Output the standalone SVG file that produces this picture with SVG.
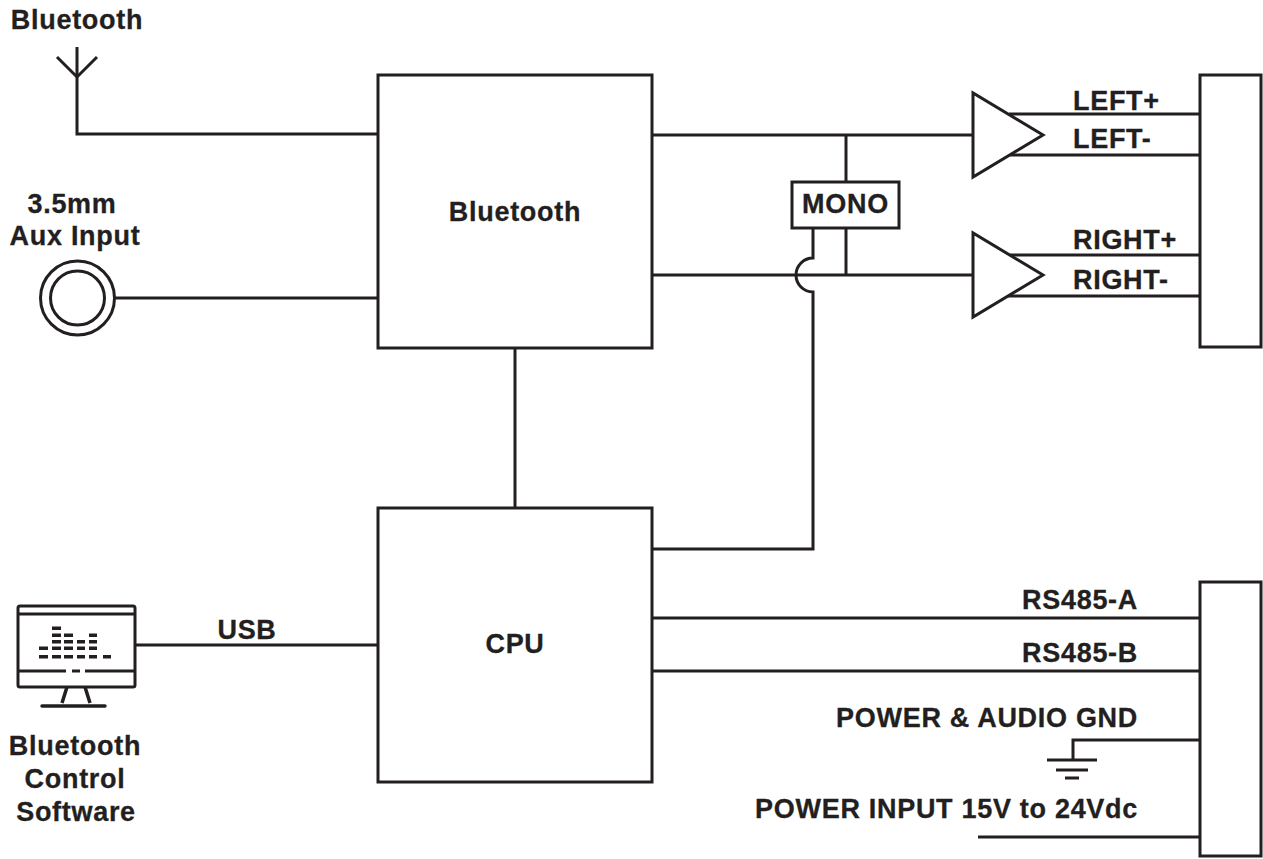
<svg xmlns="http://www.w3.org/2000/svg" width="1263" height="859" viewBox="0 0 1263 859">
<style>
.ln{fill:none;stroke:#231f20;stroke-width:3;}
.bx{fill:#fff;stroke:#231f20;stroke-width:3;}
.t{font-family:"Liberation Sans",Arial,sans-serif;font-weight:bold;font-size:27px;fill:#231f20;letter-spacing:0.7px;stroke:#231f20;stroke-width:0.3px;}
.m{text-anchor:middle;}
.e{text-anchor:end;}
.bar{fill:#231f20;}
</style>
<rect width="1263" height="859" fill="#fff"/>
<g id="connectors">
<path class="ln" d="M77 47 V134 H378"/>
<path class="ln" d="M57 57 L77 77 L97 57"/>
<path class="ln" d="M115 298 H378"/>
<path class="ln" d="M515 348 V508"/>
<path class="ln" d="M652 135 H973"/>
<path class="ln" d="M652 275 H973"/>
<path class="ln" d="M846 135 V182"/>
<path class="ln" d="M846 228 V275"/>
<path class="ln" d="M813 228 V258 A17 17 0 0 0 813 292 V549 H652"/>
<path class="ln" d="M1009 114 H1200"/>
<path class="ln" d="M1010 155 H1200"/>
<path class="ln" d="M1010 255 H1200"/>
<path class="ln" d="M1008 296 H1200"/>
<path class="ln" d="M135 645 H378"/>
<path class="ln" d="M652 618 H1200"/>
<path class="ln" d="M652 671 H1200"/>
<path class="ln" d="M1200 740 H1073 V760"/>
<path class="ln" d="M1047 760 H1097 M1056 770 H1088 M1065 778 H1079"/>
<path class="ln" d="M978 837 H1200"/>
</g>
<g id="antenna-label"><text class="t m" x="77" y="29">Bluetooth</text></g>
<g id="aux-input">
<text class="t m" x="72" y="213">3.5mm</text>
<text class="t m" x="75" y="245">Aux Input</text>
<circle class="ln" cx="77.5" cy="298" r="37"/>
<circle class="ln" cx="77.5" cy="298" r="27"/>
</g>
<g id="bluetooth">
<rect class="bx" x="378" y="75" width="274" height="273"/>
<text class="t m" x="515" y="221">Bluetooth</text>
</g>
<g id="cpu">
<rect class="bx" x="378" y="508" width="274" height="274"/>
<text class="t m" x="515" y="653">CPU</text>
</g>
<g id="mono">
<rect class="bx" x="792" y="182" width="107" height="46"/>
<text class="t m" x="845.5" y="213">MONO</text>
</g>
<g id="amp-left"><polygon class="bx" points="973,93 973,177 1043,135"/></g>
<g id="amp-right"><polygon class="bx" points="973,233 973,317 1043,275"/></g>
<g id="speaker-connector">
<rect class="bx" x="1200" y="75" width="61" height="272"/>
<text class="t" x="1073" y="110">LEFT+</text>
<text class="t" x="1073" y="148">LEFT-</text>
<text class="t" x="1073" y="249">RIGHT+</text>
<text class="t" x="1073" y="289">RIGHT-</text>
</g>
<g id="power-connector">
<rect class="bx" x="1200" y="582" width="61" height="274"/>
<text class="t e" x="1138" y="609">RS485-A</text>
<text class="t e" x="1138" y="662">RS485-B</text>
<text class="t e" x="1138" y="727">POWER &amp; AUDIO GND</text>
<text class="t e" x="1138" y="818">POWER INPUT 15V to 24Vdc</text>
</g>
<g id="computer">
<rect class="ln" x="18" y="606" width="117" height="81" rx="2"/>
<path class="ln" d="M18 614 H135"/>
<path class="ln" d="M18 671 H66 M72 671 H80 M85 671 H135"/>
<path class="ln" d="M67 687 L62 703 M85 687 L90 703" style="stroke-width:3.5"/>
<path class="ln" d="M42 706 H105" style="stroke-width:3.5;stroke-linecap:round"/>
<g class="bar">
<rect x="52" y="626.5" width="9" height="3.5"/>
<rect x="52" y="633.5" width="9" height="3.5"/><rect x="64" y="633.5" width="9" height="3.5"/><rect x="89" y="633.5" width="8" height="3.5"/>
<rect x="52" y="640" width="9" height="3.5"/><rect x="64" y="640" width="9" height="3.5"/><rect x="77" y="640" width="8" height="3.5"/><rect x="89" y="640" width="8" height="3.5"/>
<rect x="39" y="646.5" width="9" height="3.5"/><rect x="52" y="646.5" width="9" height="3.5"/><rect x="64" y="646.5" width="9" height="3.5"/><rect x="77" y="646.5" width="8" height="3.5"/><rect x="89" y="646.5" width="8" height="3.5"/>
<rect x="39" y="655" width="9" height="3.5"/><rect x="52" y="655" width="9" height="3.5"/><rect x="64" y="655" width="9" height="3.5"/><rect x="77" y="655" width="8" height="3.5"/><rect x="89" y="655" width="8" height="3.5"/><rect x="103" y="655" width="8" height="3.5"/>
</g>
<text class="t m" x="75" y="755">Bluetooth</text>
<text class="t m" x="75" y="788">Control</text>
<text class="t m" x="76" y="821">Software</text>
</g>
<g id="usb-label"><text class="t m" x="247" y="639">USB</text></g>
</svg>
